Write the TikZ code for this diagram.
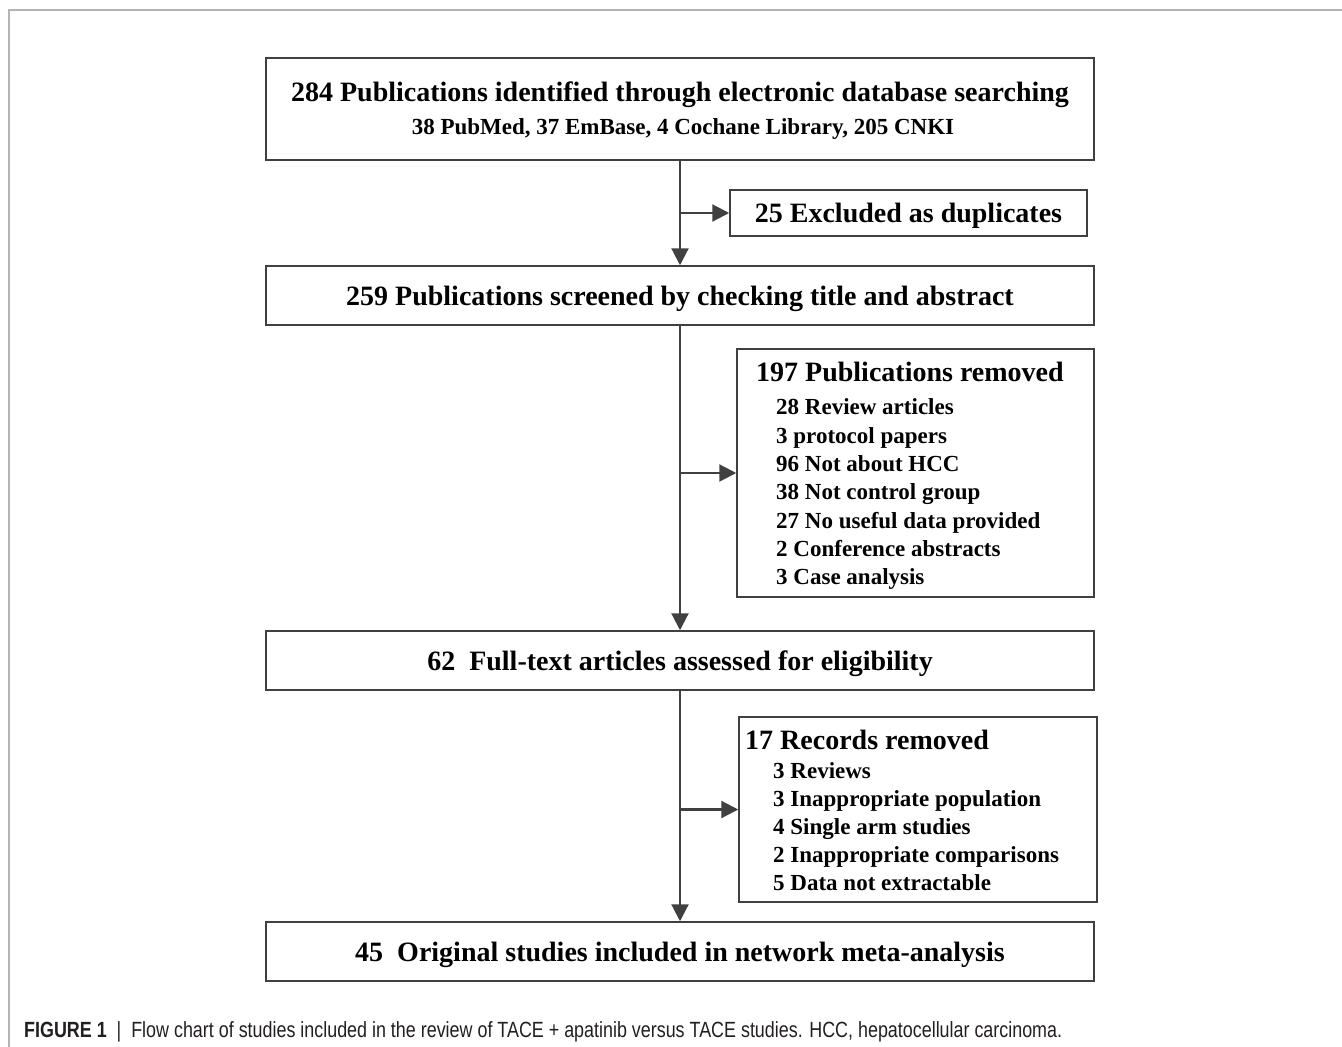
\documentclass[tikz,border=0pt]{standalone}
\usepackage{fontspec}
\setmainfont{Liberation Serif}
\setsansfont{Liberation Sans}
\usetikzlibrary{arrows.meta}
\definecolor{linegray}{HTML}{404040}
\definecolor{framegray}{HTML}{B4B4B4}
\definecolor{captxt}{HTML}{231F20}
\begin{document}
\begin{tikzpicture}[x=1pt,y=-1pt,
  box/.style={draw=linegray, line width=1.5pt, inner sep=0pt, fill=none},
  bigtxt/.style={inner sep=0pt, font=\fontsize{28}{28}\selectfont\bfseries},
  midtxt/.style={inner sep=0pt, font=\fontsize{23}{23}\selectfont\bfseries},
  flow/.style={draw=linegray, line width=2.2pt, -{Triangle[length=17pt,width=17pt]}},
  trunk/.style={draw=linegray, line width=2.2pt}
]
\useasboundingbox (0,0) rectangle (1342,1047);
% frame
\draw[framegray, line width=1.3pt] (1342,10) -- (9,10) -- (9,1047);

% boxes
\node[box, minimum width=828pt, minimum height=102pt] (b1) at (680,109) {};
\node[box, minimum width=357pt, minimum height=46pt] (b2) at (908.5,213) {};
\node[box, minimum width=828pt, minimum height=59pt] (b3) at (680,295.5) {};
\node[box, minimum width=357pt, minimum height=248pt] (b4) at (915.5,473) {};
\node[box, minimum width=828pt, minimum height=59pt] (b5) at (680,660.5) {};
\node[box, minimum width=358pt, minimum height=185pt] (b6) at (918,809.5) {};
\node[box, minimum width=828pt, minimum height=59pt] (b7) at (680,951.5) {};

% texts
\node[bigtxt, anchor=base] (t1a) at (680,101) {284 Publications identified through electronic database searching};
\node[midtxt, anchor=base] (t1b) at (683,134) {38 PubMed, 37 EmBase, 4 Cochane Library, 205 CNKI};
\node[bigtxt, anchor=base] (t2) at (908.5,222) {25 Excluded as duplicates};
\node[bigtxt, anchor=base] (t3) at (680,305) {259 Publications screened by checking title and abstract};
\node[bigtxt, anchor=base west] (t4) at (756,381.5) {197 Publications removed};
\foreach [count=\k from 0] \s in {28 Review articles, 3 protocol papers, 96 Not about HCC, 38 Not control group, 27 No useful data provided, 2 Conference abstracts, 3 Case analysis}
  \node[midtxt, anchor=base west] (r\k) at (776,414.7+\k*28.33) {\s};
\node[bigtxt, anchor=base] (t5) at (680,670) {62\ \ Full-text articles assessed for eligibility};
\node[bigtxt, anchor=base west] (t6) at (745,749) {17 Records removed};
\foreach [count=\k from 0] \s in {3 Reviews, 3 Inappropriate population, 4 Single arm studies, 2 Inappropriate comparisons, 5 Data not extractable}
  \node[midtxt, anchor=base west] (q\k) at (773,778+\k*28) {\s};
\node[bigtxt, anchor=base] (t7) at (680,961) {45\ \ Original studies included in network meta-analysis};

% connectors
\coordinate (j1) at (b1.south |- b2.west);
\coordinate (j2) at (b3.south |- b4.west);
\coordinate (j3) at (b5.south |- b6.west);
\draw[flow] (b1.south) -- (b3.north);
\draw[flow] (j1) -- (b2.west);
\draw[flow] (b3.south) -- (b5.north);
\draw[flow] (j2) -- (b4.west);
\draw[flow] (b5.south) -- (b7.north);
\draw[flow] (j3) -- (b6.west);

% caption
\node[anchor=base west, inner sep=0pt, text=captxt] (cap) at (24,1037) {\resizebox{1038pt}{\height}{\sffamily\fontsize{22}{22}\selectfont\textbf{FIGURE 1}\ \ {|}\ \ Flow chart of studies included in the review of TACE + apatinib versus TACE studies. HCC, hepatocellular carcinoma.}};
\end{tikzpicture}
\end{document}
